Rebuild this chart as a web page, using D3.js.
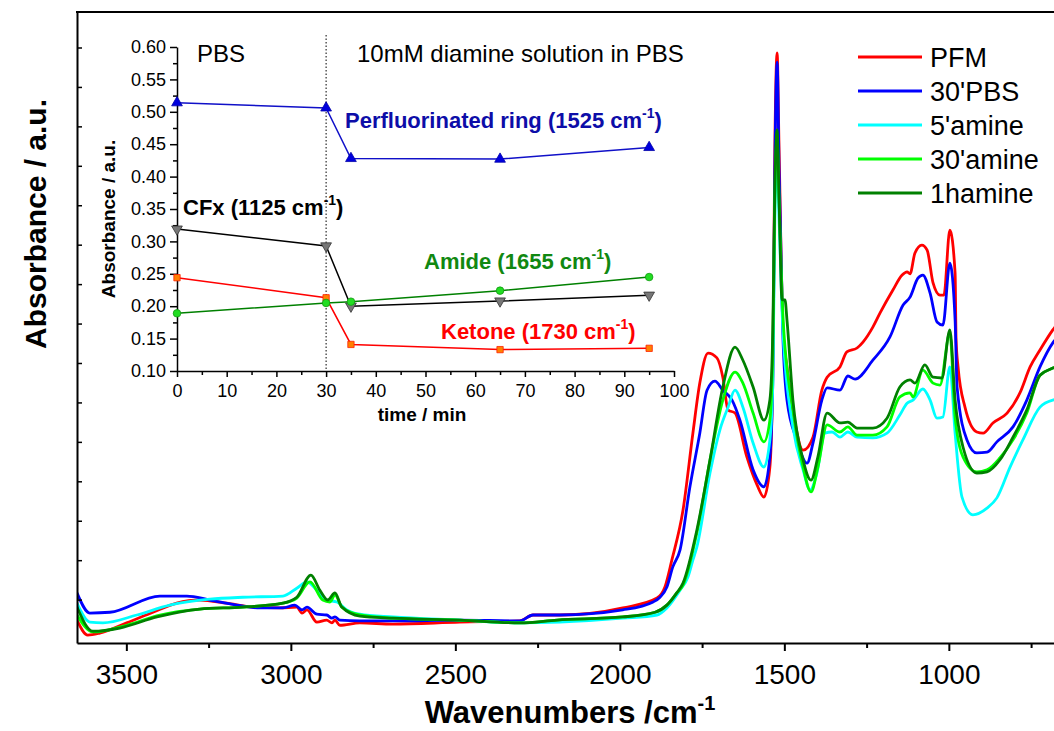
<!DOCTYPE html>
<html>
<head>
<meta charset="utf-8">
<script src="https://cdn.jsdelivr.net/npm/d3@7"></script>
<style>
	body { margin: 0; background: #fff; }
	svg { display: block; font-family: "Liberation Sans", Arial, sans-serif; }
</style>
</head>
<body>
<script>
// Spectra: [wavenumber (cm-1), absorbance]
var pfm = [[3650,0.048],[3617,0.010],[3581,0.015],[3499,0.041],[3419,0.068],[3347,0.091],[3277,0.099],[3195,0.091],[3115,0.081],[3033,0.079],[2982,0.081],[2966,0.066],[2951,0.074],[2921,0.043],[2891,0.048],[2875,0.041],[2866,0.048],[2851,0.035],[2790,0.041],[2690,0.038],[2486,0.043],[2304,0.046],[2264,0.061],[2182,0.061],[1991,0.079],[1887,0.104],[1863,0.132],[1842,0.200],[1808,0.327],[1778,0.522],[1757,0.649],[1732,0.725],[1705,0.713],[1687,0.664],[1671,0.581],[1650,0.573],[1614,0.462],[1583,0.391],[1562,0.360],[1544,0.436],[1535,0.690],[1529,1.240],[1522,1.486],[1516,1.240],[1504,0.784],[1492,0.690],[1474,0.581],[1443,0.479],[1413,0.512],[1386,0.631],[1370,0.664],[1331,0.690],[1310,0.728],[1279,0.738],[1261,0.753],[1231,0.791],[1209,0.827],[1170,0.885],[1142,0.923],[1127,0.931],[1118,0.926],[1103,0.979],[1082,0.999],[1066,0.986],[1048,0.903],[1027,0.872],[1015,0.872],[997,1.037],[981,0.928],[978,0.758],[972,0.690],[951,0.588],[915,0.525],[896,0.522],[866,0.548],[823,0.573],[784,0.624],[753,0.690],[723,0.733],[684,0.784],[650,0.820]];

var pbs30 = [[3650,0.117],[3611,0.066],[3550,0.068],[3398,0.109],[3316,0.109],[3246,0.099],[3164,0.086],[3094,0.079],[3024,0.079],[2988,0.086],[2966,0.074],[2951,0.081],[2921,0.063],[2891,0.061],[2875,0.053],[2866,0.056],[2851,0.048],[2790,0.046],[2690,0.046],[2486,0.048],[2304,0.046],[2264,0.061],[2182,0.061],[1991,0.074],[1899,0.094],[1878,0.106],[1857,0.132],[1839,0.183],[1817,0.226],[1787,0.386],[1757,0.522],[1735,0.631],[1711,0.654],[1687,0.631],[1659,0.606],[1635,0.555],[1595,0.429],[1562,0.386],[1544,0.462],[1535,0.657],[1529,1.189],[1522,1.463],[1516,1.189],[1504,0.758],[1492,0.606],[1462,0.505],[1431,0.446],[1413,0.497],[1386,0.606],[1370,0.637],[1331,0.631],[1307,0.667],[1285,0.659],[1231,0.707],[1179,0.766],[1139,0.847],[1118,0.867],[1094,0.915],[1079,0.923],[1057,0.877],[1036,0.804],[1018,0.796],[997,0.953],[981,0.809],[975,0.639],[945,0.505],[915,0.472],[884,0.474],[854,0.500],[805,0.538],[763,0.606],[723,0.690],[684,0.751],[650,0.780]];

var amine5 = [[3650,0.091],[3611,0.043],[3571,0.041],[3468,0.061],[3368,0.086],[3246,0.101],[3146,0.106],[3024,0.109],[2982,0.129],[2951,0.145],[2921,0.124],[2891,0.099],[2860,0.094],[2830,0.074],[2790,0.063],[2690,0.056],[2486,0.048],[2304,0.041],[2182,0.043],[1991,0.053],[1887,0.061],[1857,0.079],[1817,0.124],[1793,0.157],[1778,0.200],[1766,0.233],[1726,0.421],[1696,0.530],[1671,0.588],[1650,0.631],[1626,0.588],[1595,0.497],[1562,0.436],[1544,0.505],[1535,0.649],[1529,1.062],[1522,1.215],[1516,1.062],[1504,0.776],[1474,0.538],[1443,0.429],[1422,0.378],[1401,0.421],[1377,0.522],[1355,0.525],[1331,0.512],[1307,0.525],[1279,0.512],[1231,0.510],[1188,0.522],[1149,0.568],[1127,0.598],[1109,0.606],[1079,0.634],[1057,0.606],[1036,0.560],[1018,0.563],[997,0.690],[981,0.522],[960,0.360],[927,0.315],[884,0.332],[854,0.358],[814,0.436],[775,0.505],[723,0.588],[684,0.606],[650,0.610]];

var amine30 = [[3650,0.061],[3602,0.018],[3499,0.035],[3398,0.061],[3277,0.076],[3146,0.081],[3024,0.091],[2982,0.104],[2942,0.145],[2903,0.099],[2881,0.094],[2866,0.112],[2845,0.081],[2790,0.061],[2690,0.053],[2486,0.048],[2304,0.041],[2191,0.048],[1991,0.056],[1893,0.068],[1857,0.086],[1827,0.117],[1808,0.137],[1766,0.269],[1726,0.454],[1687,0.606],[1650,0.677],[1626,0.649],[1595,0.573],[1562,0.500],[1544,0.555],[1535,0.733],[1529,1.113],[1522,1.265],[1516,1.113],[1504,0.816],[1474,0.581],[1443,0.436],[1419,0.373],[1398,0.436],[1370,0.543],[1331,0.525],[1307,0.538],[1279,0.517],[1231,0.517],[1188,0.538],[1149,0.614],[1118,0.624],[1109,0.614],[1079,0.682],[1048,0.649],[1027,0.644],[997,0.776],[981,0.563],[957,0.462],[915,0.424],[884,0.429],[845,0.459],[805,0.505],[763,0.573],[723,0.669],[684,0.687],[650,0.700]];

var amine1h = [[3650,0.081],[3602,0.020],[3520,0.028],[3407,0.056],[3277,0.076],[3146,0.081],[3024,0.091],[2982,0.106],[2939,0.162],[2912,0.124],[2888,0.099],[2866,0.117],[2845,0.081],[2790,0.058],[2690,0.053],[2486,0.048],[2304,0.041],[2191,0.048],[1991,0.056],[1893,0.068],[1857,0.086],[1827,0.117],[1808,0.142],[1766,0.276],[1726,0.454],[1687,0.639],[1650,0.740],[1626,0.707],[1595,0.639],[1562,0.555],[1544,0.606],[1535,0.784],[1529,1.138],[1522,1.291],[1516,1.113],[1507,0.860],[1498,0.860],[1492,0.809],[1474,0.606],[1443,0.454],[1419,0.403],[1398,0.462],[1370,0.573],[1331,0.548],[1307,0.550],[1279,0.535],[1231,0.535],[1188,0.560],[1149,0.639],[1118,0.657],[1103,0.649],[1073,0.695],[1048,0.664],[1021,0.662],[997,0.784],[981,0.606],[957,0.487],[915,0.421],[884,0.424],[845,0.454],[805,0.512],[763,0.581],[723,0.669],[684,0.687],[650,0.700]];

var seriesNames = ["PFM", "30'PBS", "5'amine", "30'amine", "1hamine"];
var seriesColors = ["#ff0000", "#0000ff", "#00ffff", "#00ff00", "#008000"];
var wavenumberTicks = [3500, 3000, 2500, 2000, 1500, 1000];

// Inset: band intensity vs time
var insetTime = [0, 30, 35, 65, 95];
var ringValues = [0.514, 0.506, 0.428, 0.427, 0.445];
var cfxValues = [0.319, 0.293, 0.200, 0.208, 0.217];
var amideValues = [0.189, 0.205, 0.207, 0.224, 0.245];
var ketoneValues = [0.244, 0.213, 0.141, 0.133, 0.135];
var insetTimeTicks = [0, 10, 20, 30, 40, 50, 60, 70, 80, 90, 100];
var insetAbsTicks = [0.10, 0.15, 0.20, 0.25, 0.30, 0.35, 0.40, 0.45, 0.50, 0.55, 0.60];

var W = 1054, H = 731;
var FONT = "Liberation Sans, Arial, sans-serif";

var svg = d3.select("body").append("svg")
	.attr("width", W)
	.attr("height", H);

// Main scales:
var xScale = d3.scaleLinear().domain([3650, 650]).range([77, 1064]);
var yScale = d3.scaleLinear().domain([-0.01, 1.59]).range([643, 12]);

svg.append("clipPath").attr("id", "plotClip")
	.append("rect").attr("x", 77).attr("y", 12).attr("width", W - 77).attr("height", 631);

// Spectra:
var line = d3.line()
	.x(function(d){ return xScale(d[0]); })
	.y(function(d){ return yScale(d[1]); })
	.curve(d3.curveMonotoneX);

var spectra = [pfm, pbs30, amine5, amine30, amine1h];
svg.append("g")
	.attr("clip-path", "url(#plotClip)")
	.selectAll("path")
	.data(spectra)
	.enter()
	.append("path")
	.attr("d", line)
	.attr("fill", "none")
	.attr("stroke", function(d, i){ return seriesColors[i]; })
	.attr("stroke-width", 2.8)
	.attr("stroke-linejoin", "round");

// Main axes (font set after the axis call, which resets it):
var xAxisGroup = svg.append("g")
	.attr("transform", "translate(0,643)")
	.call(d3.axisBottom(xScale).tickValues(wavenumberTicks).tickSize(8).tickSizeOuter(0).tickPadding(13).tickFormat(d3.format("d")))
	.attr("font-size", 28)
	.attr("font-family", FONT);
xAxisGroup.select(".domain").attr("stroke-width", 2);
xAxisGroup.selectAll(".tick line").attr("stroke-width", 2);

svg.append("g")
	.attr("transform", "translate(0,643)")
	.call(d3.axisBottom(xScale).tickValues(d3.range(3250, 600, -500)).tickSize(5).tickSizeOuter(0).tickFormat(""))
	.call(function(g){ g.select(".domain").remove(); })
	.selectAll(".tick line").attr("stroke-width", 2);

var yAxisGroup = svg.append("g")
	.attr("transform", "translate(77,0)")
	.call(d3.axisLeft(yScale).tickValues(d3.range(1, 16).map(function(k){ return k / 10; })).tickSize(-5).tickSizeOuter(0).tickFormat(""));
yAxisGroup.select(".domain").attr("stroke-width", 2);
yAxisGroup.selectAll(".tick line").attr("stroke-width", 1.5);

// Top frame line:
svg.append("line")
	.attr("x1", 76).attr("x2", W).attr("y1", 12).attr("y2", 12)
	.attr("stroke", "#000").attr("stroke-width", 2);

// Axis titles:
var xTitle = svg.append("text")
	.attr("x", 570).attr("y", 723)
	.attr("text-anchor", "middle")
	.attr("font-size", 31)
	.attr("font-weight", "bold");
xTitle.append("tspan").text("Wavenumbers /cm");
xTitle.append("tspan").attr("font-size", 20).attr("dy", -13).text("-1");

svg.append("text")
	.attr("transform", "translate(46,224) rotate(-90)")
	.attr("text-anchor", "middle")
	.attr("font-size", 30)
	.attr("font-weight", "bold")
	.text("Absorbance / a.u.");

// Legend:
var legend = svg.append("g").selectAll("g")
	.data(seriesNames)
	.enter()
	.append("g")
	.attr("transform", function(d, i){ return "translate(858," + (57 + i * 34) + ")"; });
legend.append("line")
	.attr("x1", 0).attr("x2", 64)
	.attr("stroke", function(d, i){ return seriesColors[i]; })
	.attr("stroke-width", 3);
legend.append("text")
	.attr("x", 72).attr("y", 9.5)
	.attr("font-size", 27)
	.text(function(d){ return d; });

// Inset scales:
var tScale = d3.scaleLinear().domain([0, 100]).range([177, 674]);
var aScale = d3.scaleLinear().domain([0.1, 0.6]).range([371, 47]);

var inset = svg.append("g");

// Dotted separator at 30 min:
inset.append("line")
	.attr("x1", tScale(30)).attr("x2", tScale(30))
	.attr("y1", 35).attr("y2", aScale(0.1))
	.attr("stroke", "#000").attr("stroke-width", 1)
	.attr("stroke-dasharray", "1.5,2");

var tAxis = inset.append("g")
	.attr("transform", "translate(0," + aScale(0.1) + ")")
	.call(d3.axisBottom(tScale).tickValues(insetTimeTicks).tickSize(6).tickSizeOuter(0).tickPadding(7))
	.attr("font-size", 18)
	.attr("font-family", FONT);
tAxis.select(".domain").attr("stroke-width", 1.5);
tAxis.selectAll(".tick line").attr("stroke-width", 1.5);

inset.append("g")
	.attr("transform", "translate(0," + aScale(0.1) + ")")
	.call(d3.axisBottom(tScale).tickValues(d3.range(5, 100, 10)).tickSize(4).tickSizeOuter(0).tickFormat(""))
	.call(function(g){ g.select(".domain").remove(); })
	.selectAll(".tick line").attr("stroke-width", 1.5);

var aAxis = inset.append("g")
	.attr("transform", "translate(" + tScale(0) + ",0)")
	.call(d3.axisLeft(aScale).tickValues(insetAbsTicks).tickSize(7).tickSizeOuter(0).tickPadding(4).tickFormat(d3.format(".2f")))
	.attr("font-size", 18)
	.attr("font-family", FONT);
aAxis.select(".domain").attr("stroke-width", 1.5);
aAxis.selectAll(".tick line").attr("stroke-width", 1.5);

inset.append("g")
	.attr("transform", "translate(" + tScale(0) + ",0)")
	.call(d3.axisLeft(aScale).tickValues(d3.range(0.125, 0.6, 0.05)).tickSize(4).tickSizeOuter(0).tickFormat(""))
	.call(function(g){ g.select(".domain").remove(); })
	.selectAll(".tick line").attr("stroke-width", 1.5);

inset.append("text")
	.attr("x", 422).attr("y", 421)
	.attr("text-anchor", "middle")
	.attr("font-size", 19)
	.attr("font-weight", "bold")
	.text("time / min");

inset.append("text")
	.attr("transform", "translate(115,219) rotate(-90)")
	.attr("text-anchor", "middle")
	.attr("font-size", 19)
	.attr("font-weight", "bold")
	.text("Absorbance / a.u.");

// Inset series:
var insetSeries = [
	{ values: ringValues,   line: "#1010c8", fill: "#0000dd", stroke: "#0000aa", symbol: d3.symbolTriangle, rotate: 0,   size: 50 },
	{ values: cfxValues,    line: "#000000", fill: "#777777", stroke: "#333333", symbol: d3.symbolTriangle, rotate: 180, size: 50 },
	{ values: ketoneValues, line: "#ff0000", fill: "#ff8000", stroke: "#ff2000", symbol: d3.symbolSquare,   rotate: 0,   size: 40 },
	{ values: amideValues,  line: "#008000", fill: "#22dd22", stroke: "#119911", symbol: d3.symbolCircle,   rotate: 0,   size: 45 }
];

var insetLine = d3.line()
	.x(function(d, i){ return tScale(insetTime[i]); })
	.y(function(d){ return aScale(d); });

insetSeries.forEach(function(s){
	inset.append("path")
		.attr("d", insetLine(s.values))
		.attr("fill", "none")
		.attr("stroke", s.line)
		.attr("stroke-width", 1.5);
});

insetSeries.forEach(function(s){
	inset.append("g").selectAll("path")
		.data(s.values)
		.enter()
		.append("path")
		.attr("d", d3.symbol().type(s.symbol).size(s.size))
		.attr("transform", function(d, i){
			return "translate(" + tScale(insetTime[i]) + "," + aScale(d) + ") rotate(" + s.rotate + ")";
		})
		.attr("fill", s.fill)
		.attr("stroke", s.stroke)
		.attr("stroke-width", 0.8);
});

// Inset annotations:
inset.append("text").attr("x", 197).attr("y", 62).attr("font-size", 24).text("PBS");
inset.append("text").attr("x", 357).attr("y", 62).attr("font-size", 24).text("10mM diamine solution in PBS");

function bandLabel(x, y, name, color)
{
	var t = inset.append("text")
		.attr("x", x).attr("y", y)
		.attr("font-size", 22)
		.attr("font-weight", "bold")
		.attr("fill", color);
	t.append("tspan").text(name + " cm");
	t.append("tspan").attr("font-size", 14).attr("dy", -10).text("-1");
	t.append("tspan").attr("dy", 10).text(")");
}

bandLabel(345, 128, "Perfluorinated ring (1525", "#0d0da8");
bandLabel(183, 215, "CFx (1125", "#000000");
bandLabel(424, 269, "Amide (1655", "#118811");
bandLabel(441, 339, "Ketone (1730", "#ff0000");
</script>
</body>
</html>
